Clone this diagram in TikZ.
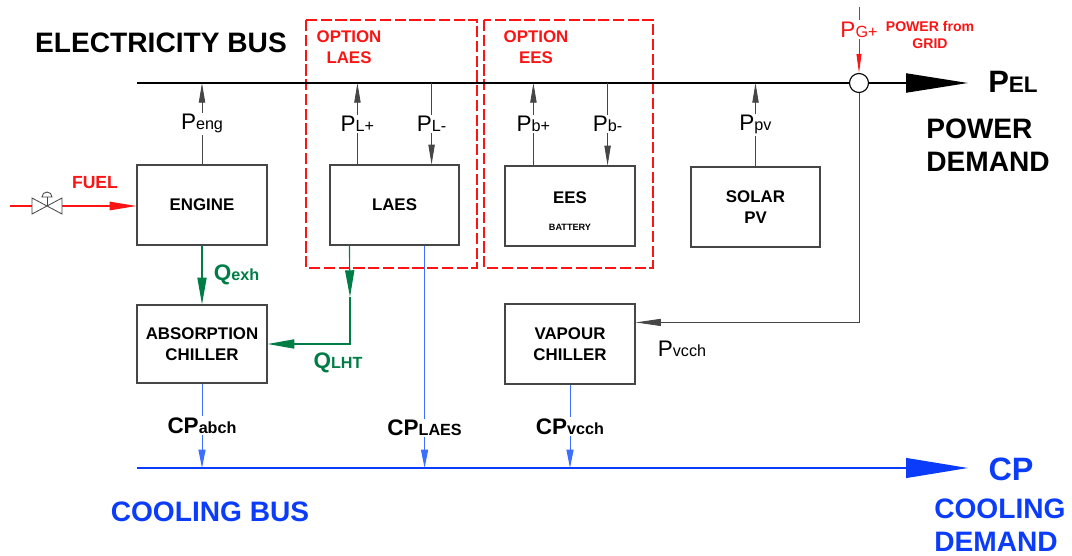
\documentclass[tikz,border=0pt]{standalone}
\usepackage{fontspec}
\setmainfont{Liberation Sans}
\usepackage{tikz}
\usetikzlibrary{positioning, calc, arrows.meta}

\definecolor{optRed}{RGB}{250, 20, 20}
\definecolor{heatGreen}{RGB}{0, 125, 70}
\definecolor{coolBlue}{RGB}{10, 60, 250}
\definecolor{lineBlue}{RGB}{60, 110, 255}
\definecolor{darkGray}{RGB}{70, 70, 70}

\newcommand{\psub}[2]{#1{\fontsize{11.5}{12}\selectfont #2}}

\begin{document}
\begin{tikzpicture}[
    x=0.025cm, y=-0.025cm,
    sysbox/.style={rectangle, draw=darkGray, line width=0.8pt, fill=white,
                   minimum width=3.25cm, minimum height=2cm, align=center,
                   font=\fontsize{12}{15}\selectfont\bfseries},
    optframe/.style={draw=optRed, line width=1.2pt, dash pattern=on 8pt off 2.5pt},
    optlabel/.style={font=\fontsize{12}{15}\selectfont\bfseries, text=optRed, align=center},
    buslabel/.style={font=\fontsize{20}{23.5}\selectfont\bfseries, inner sep=0pt},
    plabel/.style={font=\fontsize{16}{18}\selectfont, text=black, fill=white, inner sep=1pt},
    clabel/.style={font=\fontsize{16}{18}\selectfont\bfseries, text=black, fill=white, inner sep=1pt},
    hlabel/.style={font=\fontsize{16}{18}\selectfont\bfseries, text=heatGreen, inner sep=1pt},
    bus/.style={line width=1.4pt, black},
    coolbus/.style={line width=1.4pt, coolBlue},
    pwr/.style={line width=0.6pt, darkGray, -{Triangle[length=14pt, width=4.5pt]}},
    gridpwr/.style={line width=0.6pt, optRed, -{Triangle[length=13.5pt, width=3.5pt]}},
    fuel/.style={line width=0.8pt, optRed},
    heat/.style={line width=0.8pt, heatGreen, -{Triangle[length=19pt, width=6.5pt]}},
    cool/.style={line width=0.7pt, lineBlue, -{Triangle[length=13pt, width=5pt]}},
    valve/.style={line width=0.6pt, darkGray, fill=white},
  ]
    \useasboundingbox (0,0) rectangle (1072,556);

    % Option frames
    \draw[optframe] (306,20) rectangle (477,268);
    \node[optlabel] (OPT_LAES) at (349,47) {OPTION\\LAES};
    \draw[optframe] (484,20) rectangle (653,268);
    \node[optlabel] (OPT_EES) at (536,47) {OPTION\\EES};

    % Electricity bus
    \node[buslabel] (ELEC_T) at (161,43) {ELECTRICITY BUS};
    \coordinate (BUS_L) at (137,83);
    \coordinate (BUS_R) at (968,83);
    \node[circle, draw=black, line width=0.8pt, fill=white, minimum size=0.475cm,
          inner sep=0pt] (GRID) at (859,83) {};
    \draw[bus] (BUS_L) -- (GRID);
    \draw[bus, -{Triangle[length=44pt, width=13.5pt]}] (GRID) -- (BUS_R);
    \node[font=\fontsize{22}{22}\selectfont\bfseries] (PEL)
         at (1013,82) {P{\fontsize{16}{16}\selectfont EL}};
    \node[buslabel, align=left, anchor=west] (PDEM_T) at (926,145) {POWER\\DEMAND};

    % Grid supply
    \coordinate (GRID_IN) at (859,7);
    \draw[gridpwr] (GRID_IN) -- (GRID)
          node[pos=0.34, plabel, text=optRed] {\psub{P}{G+}};
    \node[font=\fontsize{10}{12}\selectfont\bfseries, text=optRed, align=center]
         (GRID_T) at (930,35) {POWER from\\GRID};

    % Units
    \node[sysbox] (ENGINE) at (202,205) {ENGINE};
    \node[sysbox, minimum width=3.225cm] (LAES) at (394.5,205) {LAES};
    \node[sysbox] (EES) at (570,206)
         {\rule{0pt}{16pt}EES\\[4pt]{\fontsize{6.5}{8}\selectfont BATTERY}};
    \node[sysbox, minimum width=3.225cm] (SOLAR) at (755.5,207) {SOLAR\\PV};
    \node[sysbox, minimum height=1.95cm] (ABSORP) at (202,344) {ABSORPTION\\CHILLER};
    \node[sysbox] (VAPOUR) at (570,344) {VAPOUR\\CHILLER};

    % Power to and from the bus
    \draw[pwr] (ENGINE) -- (ENGINE |- BUS_L) node[midway, plabel] {\psub{P}{eng}};
    \coordinate (LAES_UP) at ($(LAES.north west)+(28,0)$);
    \coordinate (LAES_DN) at ($(LAES.north east)+(-28,0)$);
    \draw[pwr] (LAES_UP) -- (LAES_UP |- BUS_L) node[midway, plabel] {\psub{P}{L+}};
    \draw[pwr] (LAES_DN |- BUS_L) -- (LAES_DN) node[midway, plabel] {\psub{P}{L-}};
    \coordinate (EES_UP) at ($(EES.north west)+(29,0)$);
    \coordinate (EES_DN) at ($(EES.north east)+(-28,0)$);
    \draw[pwr] (EES_UP) -- (EES_UP |- BUS_L) node[midway, plabel] {\psub{P}{b+}};
    \draw[pwr] (EES_DN |- BUS_L) -- (EES_DN) node[midway, plabel] {\psub{P}{b-}};
    \draw[pwr] (SOLAR) -- (SOLAR |- BUS_L) node[midway, plabel] {\psub{P}{pv}};

    % Vapour chiller supply
    \coordinate (VAP_IN) at ($(VAPOUR.north east)+(0,19)$);
    \draw[pwr, -{Triangle[length=18pt, width=5pt]}] (GRID) |- (VAP_IN);
    \node[plabel, fill=none] (PVCCH) at (682,349) {\psub{P}{vcch}};

    % Fuel and valve
    \coordinate (FUEL_IN) at (10,206);
    \coordinate (VALVE_L) at (32,206);
    \coordinate (VALVE_R) at (62,206);
    \draw[fuel] (FUEL_IN) -- (VALVE_L);
    \draw[fuel, -{Triangle[length=19pt, width=6pt]}] (VALVE_R) -- (VALVE_R -| ENGINE.west);
    \draw[valve] (32,198) -- (32,214) -- (62,198) -- (62,214) -- cycle;
    \draw[valve] (47,206) -- (47,197);
    \draw[valve] (42,197) arc[start angle=180, end angle=0, radius=0.125cm] -- cycle;
    \node[font=\fontsize{12.5}{14}\selectfont\bfseries, text=optRed] (FUEL) at (95,183) {FUEL};

    % Heat
    \draw[heat] (ENGINE) -- (ABSORP)
          node[midway, hlabel, anchor=west, xshift=0.25cm] {\psub{Q}{exh}};
    \coordinate (LHT_OUT) at ($(LAES.south west)+(20,0)$);
    \coordinate (LHT_MID) at (350,297);
    \draw[heat] (LHT_OUT) -- (LHT_MID);
    \draw[heat] (LHT_MID) |- (ABSORP);
    \node[hlabel] (QLHT) at (338,363) {\psub{Q}{LHT}};

    % Cooling bus
    \coordinate (COOL_L) at (137,468);
    \coordinate (COOL_R) at (968,468);
    \draw[coolbus, -{Triangle[length=44pt, width=14pt]}] (COOL_L) -- (COOL_R);
    \draw[cool] (ABSORP) -- (ABSORP |- COOL_L) node[midway, clabel] {\psub{CP}{abch}};
    \coordinate (LAES_CP) at ($(LAES.south east)+(-35,0)$);
    \draw[cool] (LAES_CP) -- (LAES_CP |- COOL_L) node[pos=0.82, clabel] {\psub{CP}{LAES}};
    \draw[cool] (VAPOUR) -- (VAPOUR |- COOL_L) node[midway, clabel] {\psub{CP}{vcch}};
    \node[buslabel, text=coolBlue] (COOLBUS_T) at (210,512) {COOLING BUS};
    \node[font=\fontsize{23}{23}\selectfont\bfseries, text=coolBlue] (CP_T) at (1011,469) {CP};
    \node[buslabel, text=coolBlue, align=left, anchor=west] (CDEM_T)
         at (934,525) {COOLING\\DEMAND};
\end{tikzpicture}
\end{document}
